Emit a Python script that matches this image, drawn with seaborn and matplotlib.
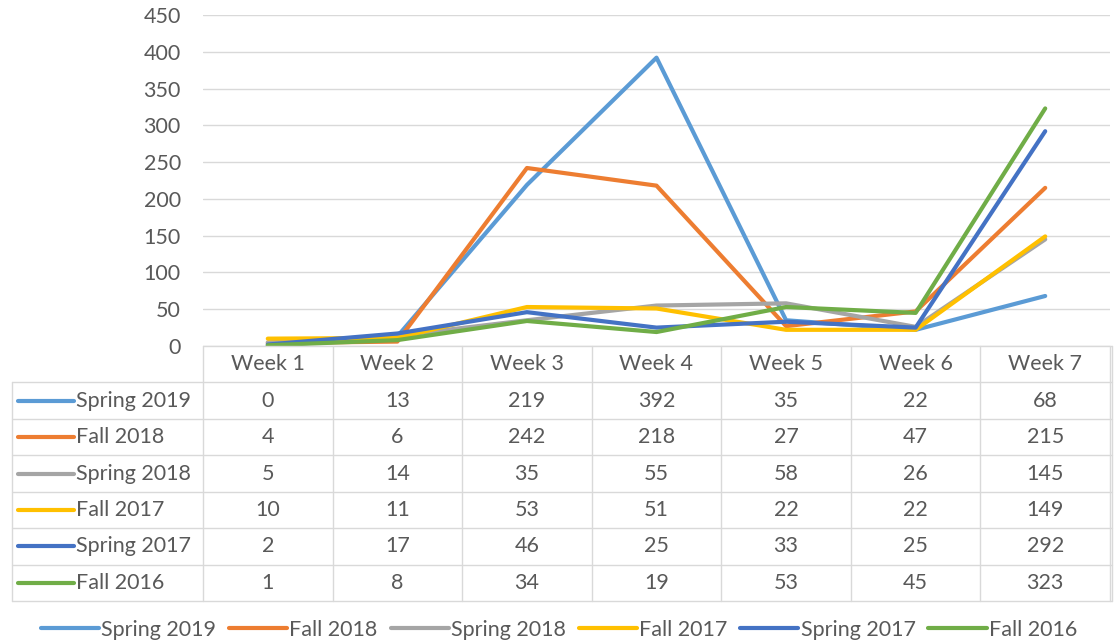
import pandas as pd
import matplotlib
matplotlib.use('Agg')
import matplotlib.pyplot as plt
import seaborn as sns

weeks = ['Week 1', 'Week 2', 'Week 3', 'Week 4', 'Week 5', 'Week 6', 'Week 7']
terms = ['Spring 2019', 'Fall 2018', 'Spring 2018', 'Fall 2017', 'Spring 2017', 'Fall 2016']
spring_2019 = [0, 13, 219, 392, 35, 22, 68]
fall_2018 = [4, 6, 242, 218, 27, 47, 215]
spring_2018 = [5, 14, 35, 55, 58, 26, 145]
fall_2017 = [10, 11, 53, 51, 22, 22, 149]
spring_2017 = [2, 17, 46, 25, 33, 25, 292]
fall_2016 = [1, 8, 34, 19, 53, 45, 323]
colors = ['#5B9BD5', '#ED7D31', '#A5A5A5', '#FFC000', '#4472C4', '#70AD47']

series = [spring_2019, fall_2018, spring_2018, fall_2017, spring_2017, fall_2016]
rows = []
for term, vals in zip(terms, series):
    for i, v in enumerate(vals):
        rows.append({'term': term, 'week': i, 'count': v})
df = pd.DataFrame(rows)

sns.set_style('white')
plt.rcParams['font.family'] = ['Lato', 'DejaVu Sans']
txt = '#595959'
grid_c = '#D9D9D9'
fs = 15.5

W, H = 1118, 642
fig = plt.figure(figsize=(W / 100, H / 100), dpi=100)

px_l, px_r, px_t, px_b = 203, 1110, 15, 346
ax = fig.add_axes([px_l / W, 1 - px_b / H, (px_r - px_l) / W, (px_b - px_t) / H])
sns.lineplot(data=df, x='week', y='count', hue='term', hue_order=terms,
             palette=colors, linewidth=3, ax=ax, legend=False)
ax.set_xlim(-0.5, 6.5)
ax.set_ylim(0, 450)
ax.set_yticks(range(0, 451, 50))
ax.set_xticks([])
ax.set_xlabel('')
ax.set_ylabel('')
ax.grid(axis='y', color=grid_c, linewidth=1)
ax.set_axisbelow(True)
for s in ax.spines.values():
    s.set_visible(False)
ax.tick_params(axis='y', length=0, pad=16, labelsize=fs, labelcolor=txt)

# data table below the plot
unit = (px_r - px_l) / 7
tb_l, tb_r, tb_t, tb_b = 12, 1112, 346, 601
tax = fig.add_axes([tb_l / W, 1 - tb_b / H, (tb_r - tb_l) / W, (tb_b - tb_t) / H])
x0 = -0.5 - (px_l - tb_l) / unit
x1 = 6.5 + (tb_r - px_r) / unit
tax.set_xlim(x0, x1)
tax.set_ylim(7, 0)
tax.axis('off')
lw = 1
# horizontal lines
tax.plot([-0.5, x1], [0, 0], color=grid_c, lw=lw, clip_on=False)
for r in range(1, 8):
    tax.plot([x0, x1], [r, r], color=grid_c, lw=lw, clip_on=False)
# vertical lines
for c in range(8):
    tax.plot([c - 0.5, c - 0.5], [0, 7], color=grid_c, lw=lw, clip_on=False)
tax.plot([x1, x1], [0, 7], color=grid_c, lw=lw, clip_on=False)
tax.plot([x0, x0], [1, 7], color=grid_c, lw=lw, clip_on=False)

for c, w in enumerate(weeks):
    tax.text(c, 0.5, w, ha='center', va='center', fontsize=fs, color=txt)
for r, (term, vals, col) in enumerate(zip(terms, series, colors)):
    y = r + 1.5
    kx0 = x0 + 6 / unit
    kx1 = x0 + 62 / unit
    tax.plot([kx0, kx1], [y, y], color=col, lw=3, solid_capstyle='round')
    tax.text(kx1 + 2 / unit, y, term, ha='left', va='center', fontsize=fs, color=txt)
    for c, v in enumerate(vals):
        tax.text(c, y, str(v), ha='center', va='center', fontsize=fs, color=txt)

# bottom legend
handles = [plt.Line2D([], [], color=c, lw=3) for c in colors]
fig.legend(handles, terms, loc='center', bbox_to_anchor=(0.5, 1 - 630 / H), ncol=6,
           frameon=False, fontsize=fs, labelcolor=txt, handlelength=2.7,
           handletextpad=0.1, columnspacing=0.6)

fig.savefig('out.png', dpi=100)
